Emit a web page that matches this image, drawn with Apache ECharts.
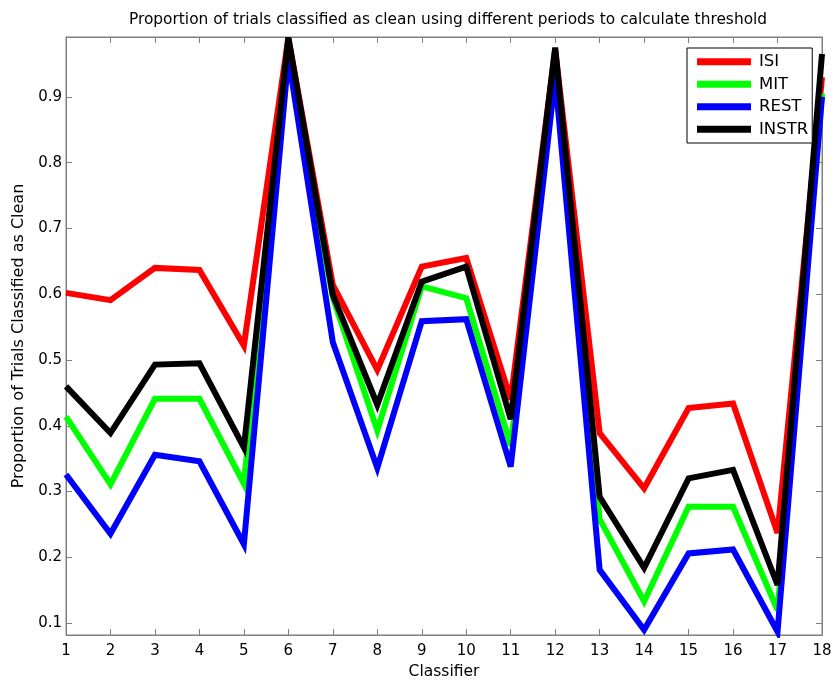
<!DOCTYPE html>
<html>
<head>
<meta charset="utf-8">
<script src="https://cdn.jsdelivr.net/npm/echarts@6/dist/echarts.min.js"></script>
<style>html,body{margin:0;padding:0;background:#fff}#c{width:833px;height:681px}</style>
</head>
<body>
<div id="c"></div>
<script>
const classifiers = [1,2,3,4,5,6,7,8,9,10,11,12,13,14,15,16,17,18];
const isi   = [0.602,0.591,0.640,0.637,0.522,0.990,0.614,0.485,0.642,0.655,0.440,0.972,0.389,0.305,0.427,0.434,0.237,0.930];
const mit   = [0.414,0.311,0.441,0.441,0.312,0.970,0.595,0.393,0.612,0.594,0.370,0.940,0.258,0.133,0.277,0.277,0.120,0.905];
const rest  = [0.326,0.236,0.356,0.346,0.220,0.960,0.527,0.336,0.559,0.562,0.338,0.930,0.181,0.090,0.206,0.212,0.087,0.900];
const instr = [0.460,0.389,0.493,0.495,0.367,0.990,0.599,0.432,0.619,0.642,0.410,0.975,0.292,0.184,0.320,0.333,0.158,0.965];
const yTicks = [0.1,0.2,0.3,0.4,0.5,0.6,0.7,0.8,0.9];
const seriesNames = ['ISI','MIT','REST','INSTR'];
const seriesColors = ['#ff0000','#00ff00','#0000ff','#000000'];
const seriesData = [isi, mit, rest, instr];

const font = 'DejaVu Sans, sans-serif';
const chart = echarts.init(document.getElementById('c'));
const axisLineStyle = {color:'#7f7f7f', width:1};
chart.setOption({
  animation:false,
  backgroundColor:'#fff',
  title:{text:'Proportion of trials classified as clean using different periods to calculate threshold',
    left:443, top:7, textAlign:'center',
    textStyle:{fontFamily:font,fontSize:15.4,fontWeight:'normal',color:'#000'}},
  grid:{left:66,right:11,top:37,bottom:46,show:true,borderColor:'#7f7f7f',borderWidth:1,
    containLabel:false, outerBoundsMode:'none'},
  legend:{orient:'vertical', left:687, top:48, data:seriesNames,
    icon:'rect', itemWidth:54, itemHeight:7, itemGap:5,
    padding:[5,4,5,10], borderColor:'#000', borderWidth:1, backgroundColor:'#fff',
    textStyle:{fontFamily:font,fontSize:16.5,color:'#000',lineHeight:17.5,padding:[0,0,0,3]}},
  xAxis:[{type:'value', min:1, max:18, interval:1,
    name:'Classifier', nameLocation:'middle', nameGap:29,
    nameTextStyle:{fontFamily:font,fontSize:15.5,color:'#000'},
    axisLine:{show:true,lineStyle:axisLineStyle},
    axisTick:{inside:true,length:6,lineStyle:axisLineStyle},
    axisLabel:{fontFamily:font,fontSize:15,color:'#000',margin:9,
      formatter:v=>String(classifiers[Math.round(v)-1])},
    splitLine:{show:false}},
    {type:'value', min:1, max:18, interval:1, position:'top',
    axisLine:{show:true,lineStyle:axisLineStyle},
    axisTick:{inside:true,length:6,lineStyle:axisLineStyle},
    axisLabel:{show:false}, splitLine:{show:false}}],
  yAxis:[{type:'value', min:0.082, max:0.991,
    name:'Proportion of Trials Classified as Clean', nameLocation:'middle', nameGap:37,
    nameTextStyle:{fontFamily:font,fontSize:16,color:'#000'},
    axisLine:{show:true,lineStyle:axisLineStyle},
    axisTick:{inside:true,length:6,lineStyle:axisLineStyle,customValues:yTicks},
    axisLabel:{fontFamily:font,fontSize:15,color:'#000',margin:4,customValues:yTicks,
      formatter:v=>v.toFixed(1)},
    splitLine:{show:false}},
    {type:'value', min:0.082, max:0.991, position:'right',
    axisLine:{show:true,lineStyle:axisLineStyle},
    axisTick:{inside:true,length:6,lineStyle:axisLineStyle,customValues:yTicks},
    axisLabel:{show:false,customValues:yTicks}, splitLine:{show:false}}],
  series: seriesNames.map((n,i)=>({
    name:n, type:'line', xAxisIndex:0, yAxisIndex:0,
    data: classifiers.map((c,j)=>[c, seriesData[i][j]]),
    showSymbol:false, symbol:'none', clip:true,
    lineStyle:{color:seriesColors[i], width:6, join:'miter', miterLimit:4},
    itemStyle:{color:seriesColors[i]}
  }))
});
</script>
</body>
</html>
